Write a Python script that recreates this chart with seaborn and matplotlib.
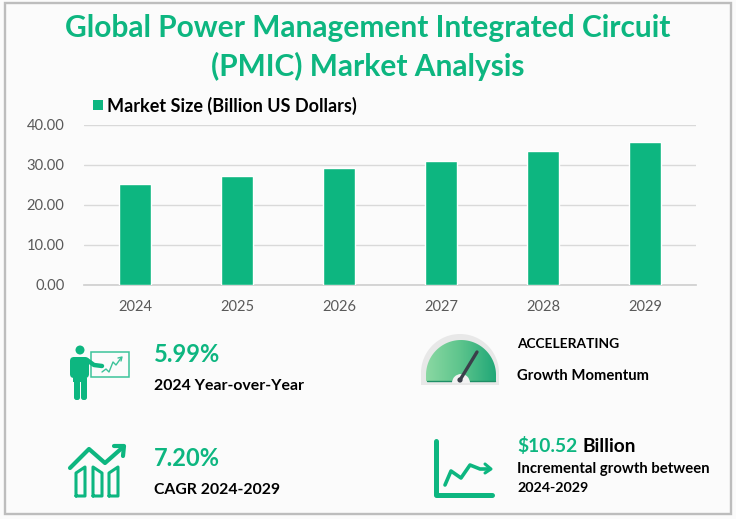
import matplotlib
matplotlib.use("Agg")
import matplotlib.pyplot as plt
import matplotlib.patches as mpatches
from matplotlib.colors import LinearSegmentedColormap
import numpy as np
import pandas as pd
import seaborn as sns

# --- data ---
years = ["2024", "2025", "2026", "2027", "2028", "2029"]
market_size = [25.3, 27.2, 29.2, 31.0, 33.4, 35.8]
y_ticks = [0, 10, 20, 30, 40]

GREEN = "#0DB680"
BG = "#FBFBFB"
W, H = 736, 519

sns.set_theme(style="white")
plt.rcParams["font.family"] = ["Lato", "DejaVu Sans"]

fig = plt.figure(figsize=(W / 100, H / 100), dpi=100, facecolor=BG)

# overlay in pixel coordinates for text and icons
bg = fig.add_axes([0, 0, 1, 1], zorder=2)
bg.set_xlim(0, W)
bg.set_ylim(H, 0)
bg.axis("off")
bg.patch.set_alpha(0)
bg.add_patch(mpatches.Rectangle((5, 3), 726, 511, fill=False, ec="#BDBDBD", lw=1.7))

# --- bar chart ---
ax = fig.add_axes([84 / W, 1 - 285 / H, 612 / W, 160 / H], facecolor="none", zorder=1)
df = pd.DataFrame({"year": years, "size": market_size})
sns.barplot(data=df, x="year", y="size", color=GREEN, saturation=1, width=0.32, ax=ax, zorder=3)
ax.set_ylim(0, 40)
ax.set_xlim(-0.5, 5.5)
ax.set_yticks(y_ticks)
ax.set_yticklabels([f"{v:.2f}" for v in y_ticks])
ax.set_xlabel("")
ax.set_ylabel("")
ax.grid(axis="y", color="#D9D9D9", lw=1)
ax.set_axisbelow(True)
sns.despine(ax=ax, left=True, top=True, right=True)
ax.spines["bottom"].set_color("#D0D0D0")
ax.tick_params(axis="y", length=0, pad=14, labelsize=10.6, labelcolor="#595959")
ax.tick_params(axis="x", length=0, pad=11, labelsize=10.5, labelcolor="#595959")

# legend
bg.add_patch(mpatches.Rectangle((93, 100), 10, 10, color=GREEN, lw=0))
bg.text(107, 105.5, "Market Size (Billion US Dollars)", fontsize=13, fontweight="bold",
        color="black", va="center")

# title
bg.text(368, 28, "Global Power Management Integrated Circuit", fontsize=21.5, fontweight="bold",
        color=GREEN, ha="center", va="center")
bg.text(368, 66, "(PMIC) Market Analysis", fontsize=21.5, fontweight="bold",
        color=GREEN, ha="center", va="center")

# --- KPI text ---
bg.text(154, 354, "5.99%", fontsize=17, fontweight="bold", color=GREEN, va="center")
bg.text(154, 386, "2024 Year-over-Year", fontsize=11.4, fontweight="bold", color="black", va="center")
bg.text(154, 459, "7.20%", fontsize=17, fontweight="bold", color=GREEN, va="center")
bg.text(154, 490, "CAGR 2024-2029", fontsize=11.3, fontweight="bold", color="black", va="center")
bg.text(517, 344, "ACCELERATING", fontsize=9.9, fontweight="bold", color="black", va="center")
bg.text(517, 376, "Growth Momentum", fontsize=10.7, fontweight="bold", color="black", va="center")
bg.text(517, 446, r"\$10.52", fontsize=13.8, fontweight="bold", color=GREEN, va="center")
bg.text(582, 446, "Billion", fontsize=13.8, fontweight="bold", color="black", va="center")
bg.text(517, 469, "Incremental growth between", fontsize=10.7, fontweight="bold", color="black", va="center")
bg.text(517, 488, "2024-2029", fontsize=10.3, fontweight="bold", color="black", va="center")


# --- icons ---
def poly(pts, color=GREEN, lw=1.5):
    xs, ys = zip(*pts)
    bg.plot(xs, ys, color=color, lw=lw, solid_capstyle="round", solid_joinstyle="round")


def rounded(x, y, w, h, r):
    bg.add_patch(mpatches.FancyBboxPatch((x, y), w, h, boxstyle=f"round,pad=0,rounding_size={r}",
                                         color=GREEN, lw=0))


# presenter
bg.add_patch(mpatches.Circle((80, 350), 4.5, color=GREEN, lw=0))
rounded(70, 357, 19, 21, 4)
bg.add_patch(mpatches.Rectangle((73, 368), 13, 14, color=GREEN, lw=0))
rounded(74, 376, 6, 24, 2.5)
rounded(81, 376, 6, 24, 2.5)
poly([(87, 360), (94, 365), (102, 366)], lw=3.2)
bg.add_patch(mpatches.Rectangle((91, 352), 38, 25, fill=False, ec="#3CC39A", lw=1.1))
poly([(102, 372), (106, 369), (109, 372), (113, 362), (116, 365), (121, 358)], color="#3CC39A", lw=1)
poly([(118, 358), (122, 357), (121, 361)], color="#3CC39A", lw=1)

# rising chart with three bars
poly([(70, 468), (89, 449), (105, 463), (122, 448)], lw=3)
poly([(114, 446), (124, 446), (123, 456)], lw=3)
poly([(76, 496), (76, 473), (85, 467), (85, 496), (76, 496)], lw=2.2)
poly([(93, 496), (93, 467), (102, 473), (102, 496), (93, 496)], lw=2.2)
poly([(109, 496), (109, 473), (118, 467), (118, 496), (109, 496)], lw=2.2)

# gauge
theta = np.linspace(0, np.pi, 80)
gx = 460 + 39 * np.cos(theta)
gy = 373 - 39 * np.sin(theta)
bg.fill(np.r_[gx, 421, 499], np.r_[gy, 385, 385], color="#E8E8E8", lw=0)
gauge_cmap = LinearSegmentedColormap.from_list("gauge", ["#8AD8A2", "#5CC48C", "#22A878"])
im = bg.imshow(np.linspace(0, 1, 64)[None, :], cmap=gauge_cmap, extent=(426, 496, 381, 340),
               aspect="auto", zorder=2)
ix = 461 + 35 * np.cos(theta)
iy = 375 - 35 * np.sin(theta)
clip = mpatches.Polygon(np.c_[np.r_[ix, 426, 496], np.r_[iy, 381, 381]], transform=bg.transData)
im.set_clip_path(clip)
bg.set_xlim(0, W)
bg.set_ylim(H, 0)
bg.plot([427, 495], [380.5, 380.5], color="#1E8F66", lw=1, zorder=3)
bg.add_patch(mpatches.Wedge((461, 383), 9, 180, 360, color="#F2F2F2", lw=0, zorder=3))
bg.plot([460, 477], [380, 352], color="#3B3F4A", lw=2.4, solid_capstyle="round", zorder=4)
bg.add_patch(mpatches.Circle((460, 380), 2.6, color="#3B3F4A", lw=0, zorder=4))

# line chart icon
poly([(436, 441), (436, 495), (492, 495)], lw=3.6)
poly([(445, 485), (451, 471), (461, 478), (470, 465), (480, 469), (489, 469)], lw=2.6)
poly([(485, 464), (491, 469), (485, 473)], lw=2.2)

fig.savefig("out.png", dpi=100, facecolor=BG)
